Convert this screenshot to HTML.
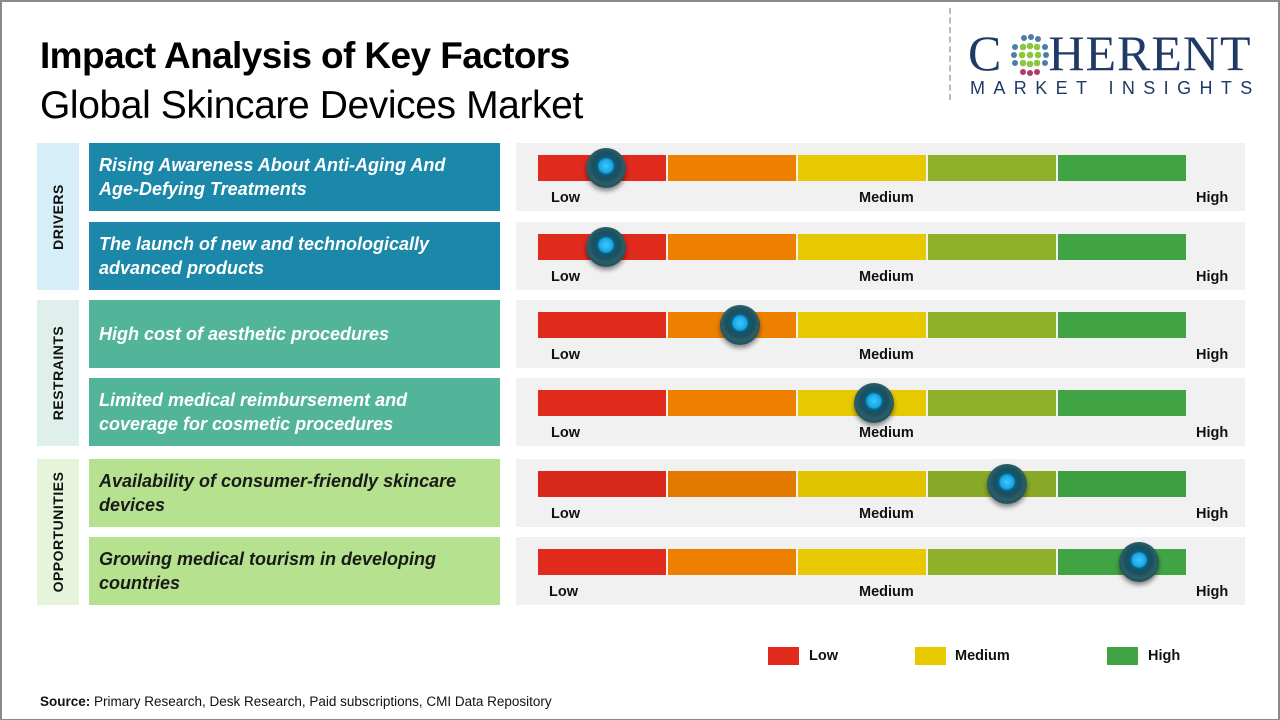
<!DOCTYPE html>
<html><head><meta charset="utf-8"><style>
*{margin:0;padding:0;box-sizing:border-box}
body{width:1280px;height:720px;background:#fff;position:relative;overflow:hidden;font-family:"Liberation Sans",Arial,sans-serif}
.frame{position:absolute;left:0;top:0;width:1280px;height:720px;border:2px solid #8a8a8a;border-bottom-width:1px;border-right:2px solid #8a8a8a}
.a{position:absolute}
.cat{position:absolute;left:37px;width:42px}
.cat span{position:absolute;left:50%;top:50%;transform:translate(-50%,-50%) rotate(-90deg);font-weight:bold;font-size:14px;letter-spacing:0.5px;color:#111;white-space:nowrap}
.box{position:absolute;left:89px;width:411px;height:68px;display:flex;align-items:center;padding-left:10px;font-weight:bold;font-style:italic;font-size:18px;line-height:24px;color:#fff;white-space:nowrap}
.panel{position:absolute;left:516px;width:729px;height:68px;background:#f1f1f1}
.bar{position:absolute;left:22px;top:12px;height:26px;width:648px}
.seg{position:absolute;top:0;height:26px;width:128px}
.lbl{position:absolute;top:47px;font-weight:bold;font-size:14.5px;color:#111}
.knob{position:absolute;top:-7px;width:40px;height:40px;margin-left:-20px;border-radius:50%;background:radial-gradient(circle at 50% 45%,#3fc8ff 0,#1aa7e6 22%,#0b5a78 30%,#1d4f5c 45%,#2a5f6a 60%,#102e36 100%);box-shadow:0 3px 5px rgba(0,0,0,.45)}
</style></head><body>
<div class="frame"></div>
<div class="a" style="left:40px;top:35px;font-size:37px;font-weight:bold;color:#000;letter-spacing:-0.6px;white-space:nowrap">Impact Analysis of Key Factors</div>
<div class="a" style="left:40px;top:84px;font-size:39px;color:#000;letter-spacing:-0.4px;white-space:nowrap">Global Skincare Devices Market</div>
<div class="a" style="left:949px;top:8px;height:92px;border-left:2px dashed #bbb"></div>
<div class="a" style="left:968px;top:28px;font-family:'Liberation Serif',serif;font-size:50px;color:#1f3a64;letter-spacing:1px;line-height:50px">C<span style="display:inline-block;width:46px"></span>HERENT</div>
<svg class="a" style="left:1008px;top:33px" width="44" height="44" viewBox="0 0 44 44">
<g fill="#4a7ea8"><circle cx="16" cy="5" r="3"/><circle cx="23" cy="4" r="3"/><circle cx="30" cy="6" r="3"/><circle cx="7" cy="14" r="3"/><circle cx="37" cy="14" r="3"/><circle cx="6" cy="22" r="3"/><circle cx="38" cy="22" r="3"/><circle cx="7" cy="30" r="3"/><circle cx="37" cy="30" r="3"/></g>
<g fill="#8dc63f"><circle cx="15" cy="14" r="3.3"/><circle cx="22" cy="13" r="3.3"/><circle cx="29" cy="14" r="3.3"/><circle cx="14" cy="22" r="3.3"/><circle cx="22" cy="22" r="3.3"/><circle cx="30" cy="22" r="3.3"/><circle cx="15" cy="30" r="3.3"/><circle cx="22" cy="31" r="3.3"/><circle cx="29" cy="30" r="3.3"/></g>
<g fill="#b03a6a"><circle cx="15" cy="39" r="3"/><circle cx="22" cy="40" r="3"/><circle cx="29" cy="39" r="3"/></g></svg>
<div class="a" style="left:970px;top:78px;font-size:18px;color:#1f3a64;letter-spacing:8.4px">MARKET INSIGHTS</div>

<div class="cat" style="top:143px;height:147px;background:#d5eef7"><span>DRIVERS</span></div>
<div class="cat" style="top:300px;height:146px;background:#dfefec"><span>RESTRAINTS</span></div>
<div class="cat" style="top:459px;height:146px;background:#e7f4dc"><span>OPPORTUNITIES</span></div>

<div class="box" style="top:143px;background:#1b87a9">Rising Awareness About Anti-Aging And<br>Age-Defying Treatments</div>
<div class="box" style="top:222px;background:#1b87a9">The launch of new and technologically<br>advanced products</div>
<div class="box" style="top:300px;background:#52b599">High cost of aesthetic procedures</div>
<div class="box" style="top:378px;background:#52b599">Limited medical reimbursement and<br>coverage for cosmetic procedures</div>
<div class="box" style="top:459px;background:#b6e28f;color:#1a1a1a">Availability of consumer-friendly skincare<br>devices</div>
<div class="box" style="top:537px;background:#b6e28f;color:#1a1a1a">Growing medical tourism in developing<br>countries</div>

<div class="panel" style="top:143px"><div class="bar"><div class="seg" style="left:0;background:#e02a1c"></div><div class="seg" style="left:130px;background:#ee8000"></div><div class="seg" style="left:260px;background:#e6c900"></div><div class="seg" style="left:390px;background:#8fb02a"></div><div class="seg" style="left:520px;background:#40a444"></div><div class="knob" style="left:68px"></div></div><div class="lbl" style="left:35px">Low</div><div class="lbl" style="left:343px">Medium</div><div class="lbl" style="left:680px">High</div></div>
<div class="panel" style="top:222px"><div class="bar"><div class="seg" style="left:0;background:#e02a1c"></div><div class="seg" style="left:130px;background:#ee8000"></div><div class="seg" style="left:260px;background:#e6c900"></div><div class="seg" style="left:390px;background:#8fb02a"></div><div class="seg" style="left:520px;background:#40a444"></div><div class="knob" style="left:68px"></div></div><div class="lbl" style="left:35px">Low</div><div class="lbl" style="left:343px">Medium</div><div class="lbl" style="left:680px">High</div></div>
<div class="panel" style="top:300px"><div class="bar"><div class="seg" style="left:0;background:#e02a1c"></div><div class="seg" style="left:130px;background:#ee8000"></div><div class="seg" style="left:260px;background:#e6c900"></div><div class="seg" style="left:390px;background:#8fb02a"></div><div class="seg" style="left:520px;background:#40a444"></div><div class="knob" style="left:202px"></div></div><div class="lbl" style="left:35px">Low</div><div class="lbl" style="left:343px">Medium</div><div class="lbl" style="left:680px">High</div></div>
<div class="panel" style="top:378px"><div class="bar"><div class="seg" style="left:0;background:#e02a1c"></div><div class="seg" style="left:130px;background:#ee8000"></div><div class="seg" style="left:260px;background:#e6c900"></div><div class="seg" style="left:390px;background:#8fb02a"></div><div class="seg" style="left:520px;background:#40a444"></div><div class="knob" style="left:336px"></div></div><div class="lbl" style="left:35px">Low</div><div class="lbl" style="left:343px">Medium</div><div class="lbl" style="left:680px">High</div></div>
<div class="panel" style="top:459px"><div class="bar"><div class="seg" style="left:0;background:#d8281b"></div><div class="seg" style="left:130px;background:#e27a00"></div><div class="seg" style="left:260px;background:#e0c400"></div><div class="seg" style="left:390px;background:#88a828"></div><div class="seg" style="left:520px;background:#3e9f42"></div><div class="knob" style="left:469px"></div></div><div class="lbl" style="left:35px">Low</div><div class="lbl" style="left:343px">Medium</div><div class="lbl" style="left:680px">High</div></div>
<div class="panel" style="top:537px"><div class="bar"><div class="seg" style="left:0;background:#e02a1c"></div><div class="seg" style="left:130px;background:#ee8000"></div><div class="seg" style="left:260px;background:#e6c900"></div><div class="seg" style="left:390px;background:#8fb02a"></div><div class="seg" style="left:520px;background:#40a444"></div><div class="knob" style="left:601px"></div></div><div class="lbl" style="left:33px">Low</div><div class="lbl" style="left:343px">Medium</div><div class="lbl" style="left:680px">High</div></div>

<div class="a" style="left:768px;top:647px;width:31px;height:18px;background:#e02a1c"></div>
<div class="a" style="left:809px;top:648px;font-size:14.5px;font-weight:bold;color:#111">Low</div>
<div class="a" style="left:915px;top:647px;width:31px;height:18px;background:#e6c900"></div>
<div class="a" style="left:955px;top:648px;font-size:14.5px;font-weight:bold;color:#111">Medium</div>
<div class="a" style="left:1107px;top:647px;width:31px;height:18px;background:#40a444"></div>
<div class="a" style="left:1148px;top:648px;font-size:14.5px;font-weight:bold;color:#111">High</div>

<div class="a" style="left:40px;top:694px;font-size:13.5px;color:#111"><b>Source:</b> Primary Research, Desk Research, Paid subscriptions, CMI Data Repository</div>
</body></html>
